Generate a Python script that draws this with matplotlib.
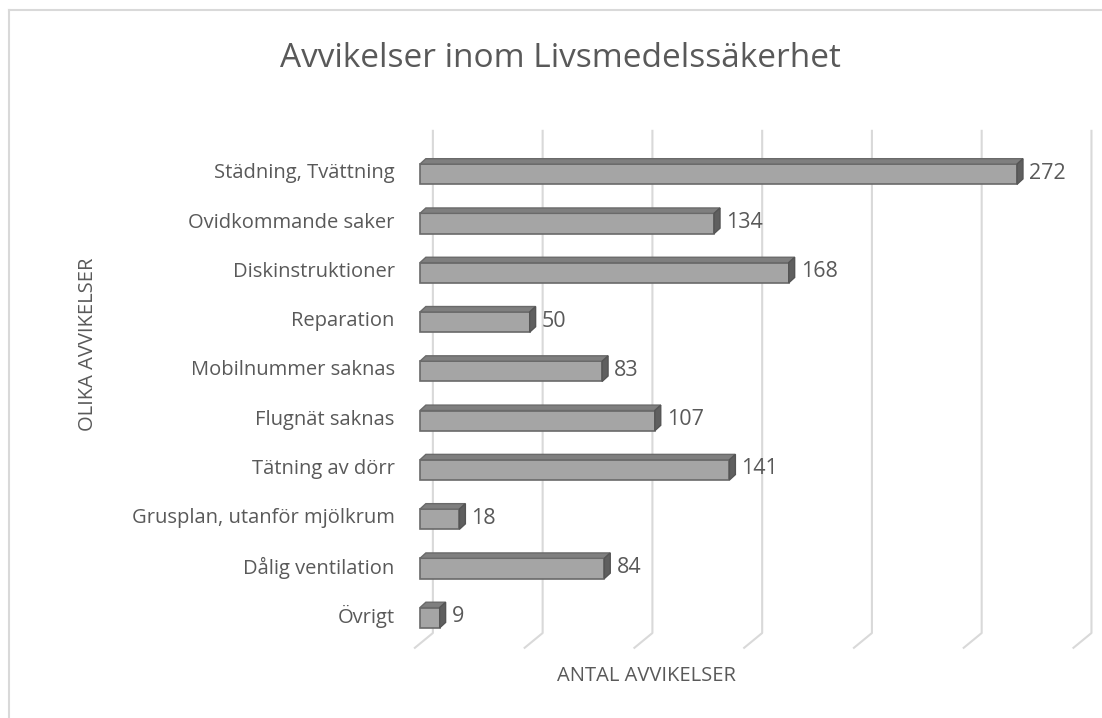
import matplotlib
matplotlib.use('Agg')
import matplotlib.pyplot as plt
from matplotlib.patches import Polygon
from matplotlib.lines import Line2D

categories = ['Städning, Tvättning', 'Ovidkommande saker', 'Diskinstruktioner',
              'Reparation', 'Mobilnummer saknas', 'Flugnät saknas',
              'Tätning av dörr', 'Grusplan, utanför mjölkrum',
              'Dålig ventilation', 'Övrigt']
values = [272, 134, 168, 50, 83, 107, 141, 18, 84, 9]
grid_values = [0, 50, 100, 150, 200, 250, 300]

title = 'Avvikelser inom Livsmedelssäkerhet'
xlabel = 'ANTAL AVVIKELSER'
ylabel = 'OLIKA AVVIKELSER'

txt = '#595959'
plt.rcParams['font.family'] = ['Open Sans', 'DejaVu Sans']

fig = plt.figure(figsize=(11.02, 7.18), dpi=100)
ax = fig.add_axes([0.3711, 0.0710, 0.6275, 0.755])
ax.set_xlim(-5, 310)
ax.set_ylim(10.0, -1.0)
ax.axis('off')

# 3d look parameters (data units)
bh = 0.41      # front face height
ddx = 2.7      # depth offset in x
ddy = 0.11     # depth offset in y (upwards)
gback = 5.9    # back wall offset
gfront = -2.3  # floor front offset
gtop, gbot, gfl = -0.88, 9.31, 9.61

# gridlines on back wall + floor
for g in grid_values:
    ax.add_line(Line2D([g + gback, g + gback, g + gfront], [gtop, gbot, gfl],
                       color='#d9d9d9', lw=1.5, zorder=1))

for i, v in enumerate(values):
    y0, y1 = i - bh / 2, i + bh / 2
    front = Polygon([(0, y0), (v, y0), (v, y1), (0, y1)], closed=True,
                    fc='#a5a5a5', ec='#6a6a6a', lw=1.2, zorder=3)
    top = Polygon([(0, y0), (v, y0), (v + ddx, y0 - ddy), (ddx, y0 - ddy)],
                  closed=True, fc='#7f7f7f', ec='#6a6a6a', lw=1.0, zorder=3)
    side = Polygon([(v, y0), (v + ddx, y0 - ddy), (v + ddx, y1 - ddy), (v, y1)],
                   closed=True, fc='#5f5f5f', ec='#555555', lw=1.0, zorder=3)
    for p in (front, top, side):
        ax.add_patch(p)
    ax.text(v + ddx + 2.8, i - 0.02, str(v), ha='left', va='center',
            fontsize=15.5, color=txt, zorder=4)
    ax.text(-11.5, i - 0.02, categories[i], ha='right', va='center',
            fontsize=14.5, color=txt)

fig.text(0.509, 0.918, title, ha='center', va='center', fontsize=24, color=txt)
fig.text(0.587, 0.058, xlabel, ha='center', va='center', fontsize=14.5, color=txt)
fig.text(0.080, 0.52, ylabel, ha='center', va='center', fontsize=14.5,
         color=txt, rotation=90)

# chart area border (left and top visible)
fig.add_artist(Line2D([0.0085, 0.0085], [0.0, 0.986], color='#d9d9d9', lw=1.5))
fig.add_artist(Line2D([0.0085, 1.0], [0.986, 0.986], color='#d9d9d9', lw=1.5))

fig.savefig('out.png', dpi=100, facecolor='white')
